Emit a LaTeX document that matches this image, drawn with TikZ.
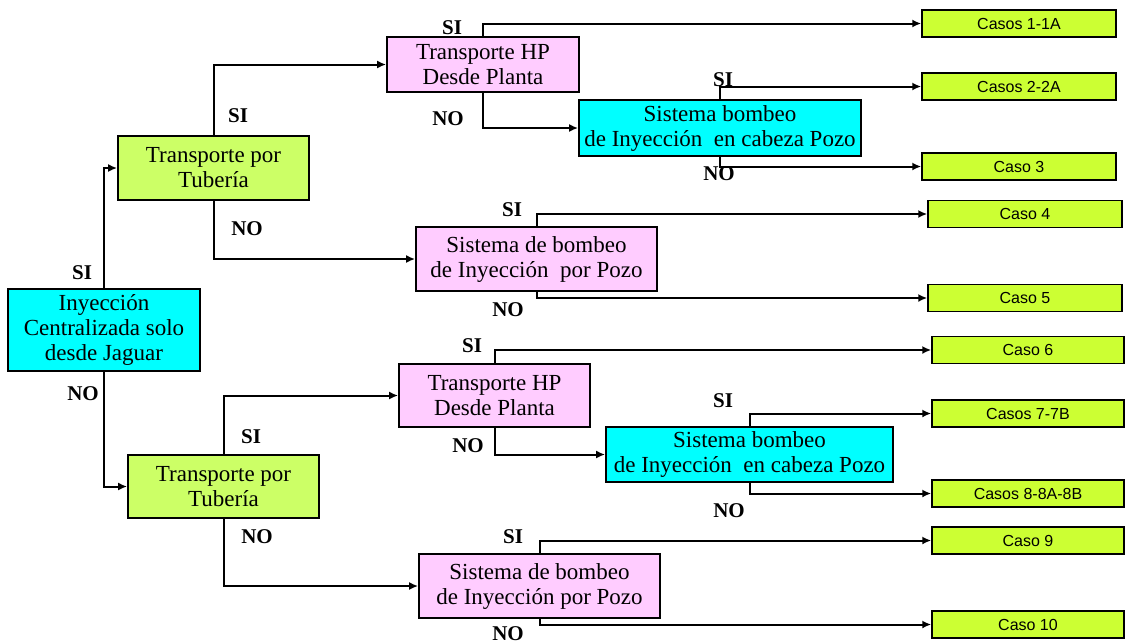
\documentclass[tikz,border=0pt]{standalone}
\usepackage{fontspec}
\setmainfont{Liberation Serif}
\newfontfamily\arialf{Liberation Sans}
\usetikzlibrary{arrows.meta}
\definecolor{cyanbox}{HTML}{00FFFF}
\definecolor{greenbox}{HTML}{CCFF66}
\definecolor{pinkbox}{HTML}{FFCCFF}
\definecolor{casegreen}{HTML}{CCFF33}
\begin{document}
\begin{tikzpicture}[x=1pt,y=-1pt,
  box/.style={draw, line width=1.8pt, align=center, inner sep=0pt, font=\fontsize{23}{25}\selectfont},
  cyanb/.style={box, fill=cyanbox},
  greenb/.style={box, fill=greenbox},
  pinkb/.style={box, fill=pinkbox},
  caso/.style={draw, fill=casegreen, line width=1.5pt, inner sep=0pt, minimum height=27pt, font=\arialf\fontsize{16}{18}\selectfont},
  lbl/.style={inner sep=0pt, font=\bfseries\fontsize{21}{23}\selectfont},
  conn/.style={line width=2pt, -{Latex[length=9pt,width=8pt]}}]
\useasboundingbox (0,0) rectangle (1126,643);
% decision boxes
\node[cyanb, minimum width=192pt, minimum height=82pt] (main) at (104,330) {Inyección\\Centralizada solo\\desde Jaguar};
\node[greenb, minimum width=191pt, minimum height=64pt] (tub1) at (213.5,168) {Transporte por\\Tubería};
\node[pinkb, minimum width=192pt, minimum height=55pt] (hp1) at (483,64.5) {Transporte HP\\Desde Planta};
\node[cyanb, minimum width=282pt, minimum height=56pt] (cab1) at (720,128) {Sistema bombeo\\de Inyección\ \ en cabeza Pozo};
\node[pinkb, minimum width=241pt, minimum height=64pt] (pozo1) at (536.5,259) {Sistema de bombeo\\de Inyección\ \ por Pozo};
\node[greenb, minimum width=191pt, minimum height=63pt] (tub2) at (223.5,486.5) {Transporte por\\Tubería};
\node[pinkb, minimum width=191pt, minimum height=63pt] (hp2) at (494.5,395.5) {Transporte HP\\Desde Planta};
\node[cyanb, minimum width=287pt, minimum height=55pt] (cab2) at (749.5,454.5) {Sistema bombeo\\de Inyección\ \ en cabeza Pozo};
\node[pinkb, minimum width=241pt, minimum height=64pt] (pozo2) at (539.5,586) {Sistema de bombeo\\de Inyección por Pozo};
% case boxes
\node[caso, minimum width=194pt] (c1) at (1019,23.5) {Casos 1-1A};
\node[caso, minimum width=194pt] (c2) at (1019,86.5) {Casos 2-2A};
\node[caso, minimum width=194pt] (c3) at (1019,166.5) {Caso 3};
\node[caso, minimum width=194pt] (c4) at (1025,214) {Caso 4};
\node[caso, minimum width=194pt] (c5) at (1025,298) {Caso 5};
\node[caso, minimum width=192pt] (c6) at (1028,350) {Caso 6};
\node[caso, minimum width=192pt] (c7) at (1028,413.5) {Casos 7-7B};
\node[caso, minimum width=192pt] (c8) at (1028,493.5) {Casos 8-8A-8B};
\node[caso, minimum width=192pt] (c9) at (1028,540.5) {Caso 9};
\node[caso, minimum width=192pt] (c10) at (1028,624.5) {Caso 10};
% connectors
\draw[conn] (main.north) |- (tub1.west);
\draw[conn] (main.south) |- (tub2.west);
\draw[conn] (tub1.north) |- (hp1.west);
\draw[conn] (tub1.south) |- (pozo1.west);
\draw[conn] (hp1.north) |- (c1.west);
\draw[conn] (hp1.south) |- (cab1.west);
\draw[conn] (cab1.north) |- (c2.west);
\draw[conn] (cab1.south) |- (c3.west);
\draw[conn] (pozo1.north) |- (c4.west);
\draw[conn] (pozo1.south) |- (c5.west);
\draw[conn] (tub2.north) |- (hp2.west);
\draw[conn] (tub2.south) |- (pozo2.west);
\draw[conn] (hp2.north) |- (c6.west);
\draw[conn] (hp2.south) |- (cab2.west);
\draw[conn] (cab2.north) |- (c7.west);
\draw[conn] (cab2.south) |- (c8.west);
\draw[conn] (pozo2.north) |- (c9.west);
\draw[conn] (pozo2.south) |- (c10.west);
% labels
\node[lbl] (l1) at (82,273) {SI};
\node[lbl] (l2) at (83,394) {NO};
\node[lbl] (l3) at (238,116) {SI};
\node[lbl] (l4) at (247,229) {NO};
\node[lbl] (l5) at (452,28) {SI};
\node[lbl] (l6) at (448,119) {NO};
\node[lbl] (l7) at (723,80) {SI};
\node[lbl] (l8) at (719,174) {NO};
\node[lbl] (l9) at (512,210) {SI};
\node[lbl] (l10) at (508,310) {NO};
\node[lbl] (l11) at (251,437) {SI};
\node[lbl] (l12) at (257,537) {NO};
\node[lbl] (l13) at (472,346) {SI};
\node[lbl] (l14) at (468,446) {NO};
\node[lbl] (l15) at (723,401) {SI};
\node[lbl] (l16) at (729,511) {NO};
\node[lbl] (l17) at (513,537) {SI};
\node[lbl] (l18) at (508,634) {NO};
\end{tikzpicture}
\end{document}
